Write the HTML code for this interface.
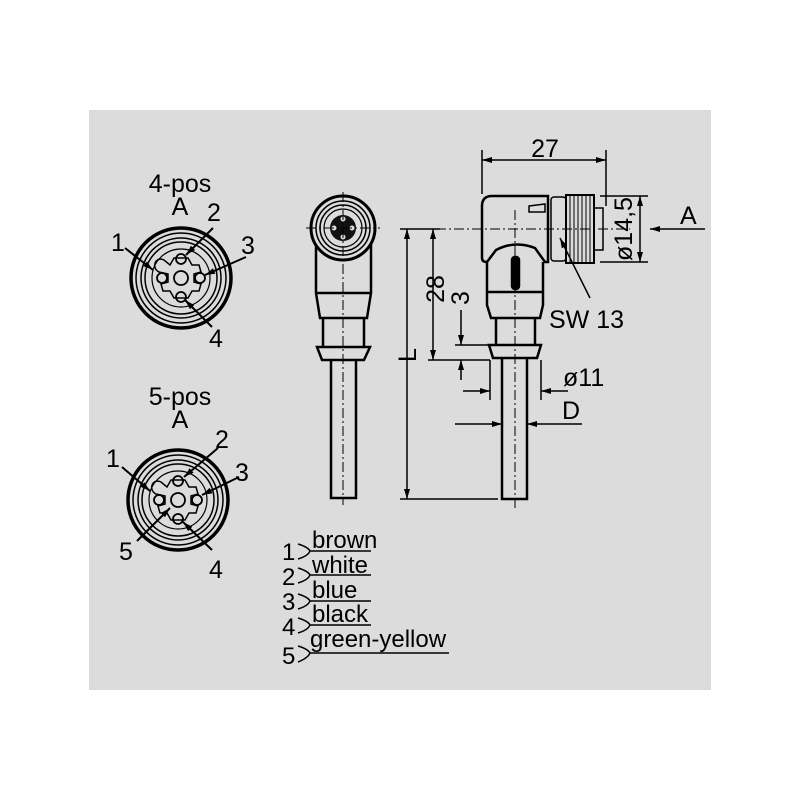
<!DOCTYPE html>
<html><head><meta charset="utf-8"><style>
html,body{margin:0;padding:0;background:#fff}
svg{display:block}
text{font-family:"Liberation Sans",sans-serif;fill:#000}
</style></head><body>
<svg width="800" height="800" viewBox="0 0 800 800" xmlns="http://www.w3.org/2000/svg">
<defs>
<marker id="ar" viewBox="0 0 10 6" refX="10" refY="3" markerWidth="14" markerHeight="6" markerUnits="userSpaceOnUse" orient="auto-start-reverse"><path d="M0,0L10,3L0,6z" fill="#000"/></marker>
<g id="face" fill="none" stroke="#000">
 <circle r="50" stroke-width="3.5"/>
 <circle r="45" stroke-width="1.5"/>
 <circle r="40" stroke-width="1.5"/>
 <circle r="36" stroke-width="1.5"/>
 <circle r="29" stroke-width="1.2"/>
 <path d="M-22,-6 C-30,-10 -26,-22 -17,-18 L-11,-13 L-7,-20 L7,-20 L11,-13 L18,-13 L20,-6 L13,-4 L13,4 L20,6 L18,13 L11,13 L7,20 L-7,20 L-11,13 L-18,13 L-20,6 L-13,4 L-13,-4 Z" stroke-width="1.5"/>
 <circle r="7" stroke-width="1.8"/>
 <circle cx="0" cy="-19" r="5" stroke-width="1.8"/>
 <circle cx="19" cy="0" r="5" stroke-width="1.8"/>
 <circle cx="0" cy="19" r="5" stroke-width="1.8"/>
 <circle cx="-19" cy="0" r="5" stroke-width="1.8"/>
</g>
</defs>
<rect x="89" y="110" width="622" height="580" fill="#dcdcdc"/>

<!-- 4-pos -->
<text x="180" y="192" font-size="25" text-anchor="middle">4-pos</text>
<text x="180" y="215" font-size="25" text-anchor="middle">A</text>
<use href="#face" x="181" y="278"/>
<g stroke="#000" stroke-width="2">
<line x1="213" y1="228" x2="186" y2="255" marker-end="url(#ar)"/>
<line x1="125" y1="248" x2="153" y2="270" marker-end="url(#ar)"/>
<line x1="246" y1="257" x2="205" y2="275" marker-end="url(#ar)"/>
<line x1="212" y1="327" x2="185" y2="300" marker-end="url(#ar)"/>
</g>
<text x="207" y="221" font-size="25">2</text>
<text x="111" y="251" font-size="25">1</text>
<text x="241" y="254" font-size="25">3</text>
<text x="209" y="347" font-size="25">4</text>

<!-- 5-pos -->
<text x="180" y="405" font-size="25" text-anchor="middle">5-pos</text>
<text x="180" y="428" font-size="25" text-anchor="middle">A</text>
<use href="#face" x="178" y="500"/>
<g stroke="#000" stroke-width="2">
<line x1="218" y1="448" x2="184" y2="477" marker-end="url(#ar)"/>
<line x1="122" y1="467" x2="150" y2="491" marker-end="url(#ar)"/>
<line x1="239" y1="477" x2="202" y2="495" marker-end="url(#ar)"/>
<line x1="212" y1="550" x2="183" y2="522" marker-end="url(#ar)"/>
<line x1="137" y1="541" x2="170" y2="508" marker-end="url(#ar)"/>
</g>
<text x="215" y="448" font-size="25">2</text>
<text x="106" y="467" font-size="25">1</text>
<text x="235" y="481" font-size="25">3</text>
<text x="119" y="560" font-size="25">5</text>
<text x="209" y="578" font-size="25">4</text>

<!-- front view -->
<g fill="none" stroke="#000" stroke-width="2.5">
<path d="M316,243 L316,293 L320,318 L367,318 L371,293 L371,243"/>
<line x1="316" y1="293" x2="371" y2="293"/>
<path d="M323,318 L323,347 M364,318 L364,347"/>
<path d="M317,347 L370,347 L364,360 L322,360 Z"/>
<path d="M331,360 L331,498 L356,498 L356,360"/>
<circle cx="343" cy="228" r="32" fill="#dcdcdc" stroke-width="3"/>
<circle cx="343" cy="228" r="27" stroke-width="1.5"/>
<circle cx="343" cy="228" r="23" stroke-width="1.5"/>
<circle cx="343" cy="228" r="19" stroke-width="1.2"/>
</g>
<circle cx="343" cy="228" r="13" fill="#111"/>
<g fill="#dcdcdc"><circle cx="343" cy="219" r="2.5"/><circle cx="352" cy="228" r="2.5"/><circle cx="343" cy="237" r="2.5"/><circle cx="334" cy="228" r="2.5"/></g>
<g stroke="#000" stroke-width="1" stroke-dasharray="10,3,2,3">
<line x1="343" y1="192" x2="343" y2="505"/>
<line x1="306" y1="228" x2="380" y2="228"/>
</g>

<!-- side view -->
<g fill="none" stroke="#000" stroke-width="2.5">
<path d="M548,196 L492,196 Q482,196 482,206 L482,258 Q482,262 487,262 L496,250 Q515,240 535,248 L545,262 L548,262 Z"/>
<path d="M487,262 L487,305 L491,318 L540,318 L543,305 L543,262"/>
<line x1="487" y1="292" x2="543" y2="292"/>
<path d="M496,318 L496,345 M535,318 L535,345"/>
<path d="M489,345 L541,345 L537,358 L493,358 Z"/>
<path d="M502,358 L502,499 L527,499 L527,358"/>
<path d="M529,206 L545,204 L545,212 L529,212 Z" stroke-width="1.5"/>
<rect x="551" y="197" width="15" height="64" rx="3" stroke-width="1.5"/>
<rect x="566" y="195" width="28" height="68" stroke-width="2"/>
<rect x="594" y="208" width="9" height="42" stroke-width="1.5"/>
<rect x="512" y="257" width="7" height="32" rx="3" fill="#000"/>
</g>
<g stroke="#000" stroke-width="1">
<line x1="570" y1="196" x2="570" y2="262"/><line x1="574" y1="196" x2="574" y2="262"/>
<line x1="578" y1="196" x2="578" y2="262"/><line x1="582" y1="196" x2="582" y2="262"/>
<line x1="586" y1="196" x2="586" y2="262"/><line x1="590" y1="196" x2="590" y2="262"/>
</g>
<g stroke="#000" stroke-width="1" stroke-dasharray="10,3,2,3">
<line x1="515" y1="210" x2="515" y2="508"/>
<line x1="400" y1="229" x2="630" y2="229"/>
</g>

<!-- dimensions -->
<g stroke="#000" stroke-width="1.5" fill="none">
<line x1="482" y1="150" x2="482" y2="194"/>
<line x1="606" y1="150" x2="606" y2="206"/>
<line x1="482" y1="160" x2="606" y2="160" marker-start="url(#ar)" marker-end="url(#ar)"/>
<line x1="600" y1="196" x2="648" y2="196"/>
<line x1="600" y1="262" x2="648" y2="262"/>
<line x1="640" y1="196" x2="640" y2="262" marker-start="url(#ar)" marker-end="url(#ar)"/>
<line x1="705" y1="229" x2="650" y2="229" marker-end="url(#ar)"/>
<line x1="400" y1="229" x2="440" y2="229"/>
<line x1="407" y1="229" x2="407" y2="499" marker-start="url(#ar)" marker-end="url(#ar)"/>
<line x1="400" y1="499" x2="498" y2="499"/>
<line x1="433" y1="229" x2="433" y2="360" marker-start="url(#ar)" marker-end="url(#ar)"/>
<line x1="428" y1="360" x2="490" y2="360"/>
<line x1="455" y1="345" x2="490" y2="345"/>
<line x1="461" y1="310" x2="461" y2="345" marker-end="url(#ar)"/>
<line x1="461" y1="380" x2="461" y2="360" marker-end="url(#ar)"/>
<line x1="490" y1="360" x2="490" y2="400"/>
<line x1="541" y1="360" x2="541" y2="400"/>
<line x1="463" y1="391" x2="490" y2="391" marker-end="url(#ar)"/>
<line x1="568" y1="391" x2="541" y2="391" marker-end="url(#ar)"/>
<line x1="455" y1="424" x2="502" y2="424" marker-end="url(#ar)"/>
<line x1="582" y1="424" x2="527" y2="424" marker-end="url(#ar)"/>
<line x1="590" y1="298" x2="560" y2="238" marker-end="url(#ar)"/>
</g>
<text x="545" y="157" font-size="25" text-anchor="middle">27</text>
<text transform="translate(632,229) rotate(-90)" font-size="25" text-anchor="middle">ø14,5</text>
<text x="680" y="224" font-size="25">A</text>
<text transform="translate(416,355) rotate(-90)" font-size="25" text-anchor="middle">L</text>
<text transform="translate(444,289) rotate(-90)" font-size="25" text-anchor="middle">28</text>
<text transform="translate(469,298) rotate(-90)" font-size="25" text-anchor="middle">3</text>
<text x="563" y="386" font-size="25">ø11</text>
<text x="562" y="419" font-size="25">D</text>
<text x="549" y="328" font-size="25">SW 13</text>

<!-- legend -->
<g font-size="24">
<text x="282" y="560">1</text><text x="312" y="548">brown</text>
<text x="282" y="585">2</text><text x="312" y="573">white</text>
<text x="282" y="610">3</text><text x="312" y="598">blue</text>
<text x="282" y="635">4</text><text x="312" y="622">black</text>
<text x="282" y="664">5</text><text x="310" y="647">green-yellow</text>
</g>
<g stroke="#000" stroke-width="1.5" fill="none">
<line x1="310" y1="551" x2="371" y2="551"/>
<line x1="310" y1="575" x2="371" y2="575"/>
<line x1="310" y1="601" x2="371" y2="601"/>
<line x1="310" y1="625" x2="371" y2="625"/>
<line x1="310" y1="653" x2="449" y2="653"/>
<path d="M298,544 Q308,547 310,551 Q308,556 298,559"/>
<path d="M298,568 Q308,571 310,575 Q308,580 298,583"/>
<path d="M298,594 Q308,597 310,601 Q308,606 298,609"/>
<path d="M298,618 Q308,621 310,625 Q308,630 298,633"/>
<path d="M298,646 Q308,649 310,653 Q308,658 298,662"/>
</g>
</svg>
</body></html>
